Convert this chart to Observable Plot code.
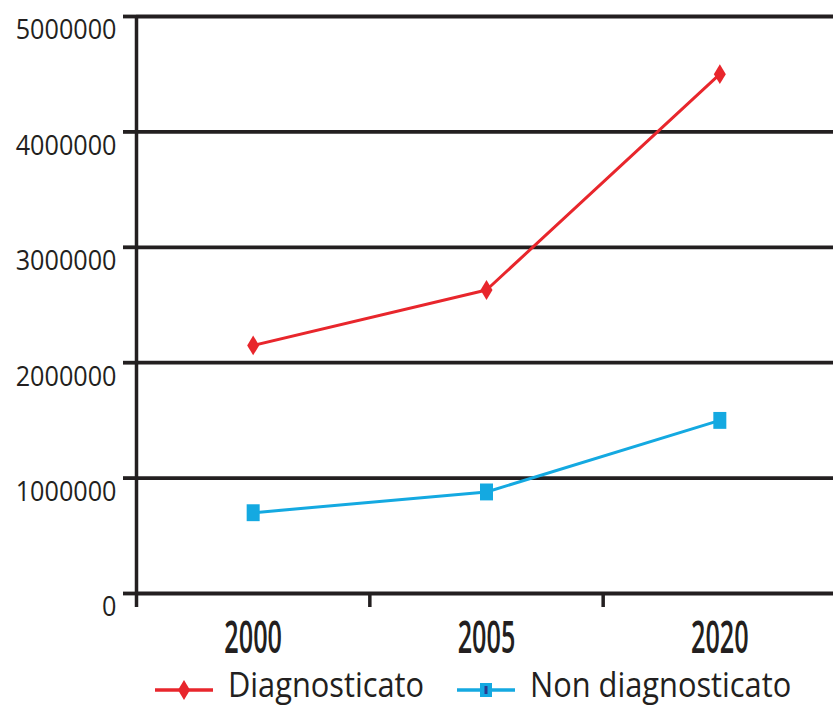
<!DOCTYPE html>
<html>
<head>
<meta charset="utf-8">
<script src="https://cdn.jsdelivr.net/npm/d3@7"></script>
<script src="https://cdn.jsdelivr.net/npm/@observablehq/plot@0.6"></script>
<style>
  body { margin: 0; background: #fff; }
  #chart svg { display: block; overflow: visible; }
  #legend { display: block; }
</style>
</head>
<body>
<div id="chart"></div>
<script>
// Years on the horizontal axis
const years = ["2000", "2005", "2020"];
// Number of people per year, for each series
const diagnosticato = [2150000, 2630000, 4500000];
const nonDiagnosticato = [700000, 880000, 1500000];
// Vertical axis ticks
const yTicks = [0, 1000000, 2000000, 3000000, 4000000, 5000000];
const seriesNames = ["Diagnosticato", "Non diagnosticato"];
const seriesColors = ["#e8262c", "#14a9e1"];

const INK = "#231f20";
const FONT = "'Open Sans', 'Noto Sans', sans-serif";

const rows = years.flatMap((year, i) => [
  {i, year, series: seriesNames[0], value: diagnosticato[i]},
  {i, year, series: seriesNames[1], value: nonDiagnosticato[i]}
]);

// Tall diamond and tall square markers
const tallDiamond = {
  draw(ctx, size) {
    const s = Math.sqrt(size / Math.PI);
    ctx.moveTo(0, -1.65 * s);
    ctx.lineTo(s, 0);
    ctx.lineTo(0, 1.65 * s);
    ctx.lineTo(-s, 0);
    ctx.closePath();
  }
};
const tallSquare = {
  draw(ctx, size) {
    const s = Math.sqrt(size / Math.PI);
    ctx.rect(-s, -1.3 * s, 2 * s, 2.6 * s);
  }
};

const n = years.length;
const chart = Plot.plot({
  width: 833,
  height: 670,
  marginTop: 16,
  marginBottom: 77,
  marginLeft: 136,
  marginRight: 0,
  style: {fontFamily: FONT, background: "#fff"},
  x: {type: "linear", domain: [-0.5, n - 0.5], range: [136, 836]},
  y: {domain: [0, 5000000]},
  color: {domain: seriesNames, range: seriesColors},
  marks: [
    Plot.ruleY(yTicks, {stroke: INK, strokeWidth: 3.8}),
    Plot.ruleX([-0.5], {stroke: INK, strokeWidth: 3.5}),
    Plot.axisY(yTicks, {
      tickSize: 13, tickPadding: 7, strokeWidth: 3.8, color: INK,
      tickFormat: d => String(d), fontSize: 28, label: null
    }),
    Plot.axisX(years.map((_, i) => i - 0.5), {
      tickSize: 14, strokeWidth: 3.5, color: INK, tickFormat: () => "", label: null
    }),
    Plot.axisX(years.map((_, i) => i), {
      tickSize: 0, tickPadding: 28, color: INK, fontSize: 45, fontWeight: 600,
      tickFormat: i => years[i], label: null
    }),
    Plot.line(rows, {x: "i", y: "value", z: "series", stroke: "series", strokeWidth: 3}),
    Plot.dot(rows.filter(d => d.series === seriesNames[0]), {
      x: "i", y: "value", r: 6, symbol: tallDiamond, fill: seriesColors[0], stroke: null
    }),
    Plot.dot(rows.filter(d => d.series === seriesNames[1]), {
      x: "i", y: "value", r: 6.5, symbol: tallSquare, fill: seriesColors[1], stroke: null
    })
  ]
});

// Narrow the tick label glyphs horizontally (and drop the y labels a little)
function squeeze(selector, sx, dy = 0) {
  d3.select(chart).selectAll(selector).each(function () {
    const t = this.getAttribute("transform") || "";
    this.setAttribute("transform", t + ` translate(0,${dy}) scale(${sx},1)`);
  });
}
squeeze('g[aria-label="y-axis tick label"] text', 0.9, 14);
squeeze('g[aria-label="x-axis tick label"] text', 0.56);

document.getElementById("chart").append(chart);

// Legend below the chart
const legendX = [155, 457];
const legend = d3.create("svg")
  .attr("id", "legend")
  .attr("width", 833)
  .attr("height", 40);
seriesNames.forEach((name, k) => {
  const g = legend.append("g").attr("transform", `translate(${legendX[k]},20)`);
  g.append("line").attr("x1", 0).attr("x2", 58).attr("y1", 0).attr("y2", 0)
    .attr("stroke", seriesColors[k]).attr("stroke-width", 3.5);
  if (k === 0) {
    g.append("path").attr("d", "M29,-10L35,0L29,10L23,0Z").attr("fill", seriesColors[k]);
  } else {
    g.append("rect").attr("x", 23).attr("y", -7).attr("width", 12).attr("height", 14)
      .attr("fill", seriesColors[k]);
    g.append("rect").attr("x", 27.5).attr("y", -4).attr("width", 3).attr("height", 8)
      .attr("fill", "#2b3a8f");
  }
  g.append("text").attr("x", 73).attr("y", 7)
    .attr("transform", "translate(73,0) scale(0.88,1) translate(-73,0)")
    .attr("font-family", FONT).attr("font-size", 35).attr("fill", INK)
    .text(name);
});
document.body.append(legend.node());
</script>
</body>
</html>
